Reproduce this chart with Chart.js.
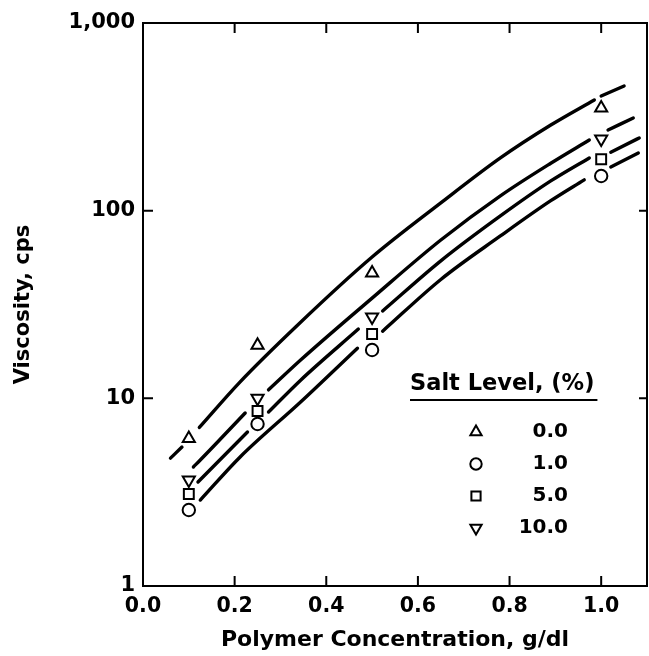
<!DOCTYPE html>
<html>
<head>
<meta charset="utf-8">
<script src="https://cdn.jsdelivr.net/npm/chart.js@4.4.1/dist/chart.umd.min.js"></script>
<style>
  html, body { margin: 0; padding: 0; background: #fff; }
</style>
</head>
<body>
<canvas id="chart" width="649" height="656"></canvas>
<script>
// Axis ticks
const xTicks = [0.0, 0.2, 0.4, 0.6, 0.8, 1.0];
const yTicks = [1, 10, 100, 1000];
const yTickLabels = ['1', '10', '100', '1,000'];

// Salt levels, in legend order
const saltLevels = ['0.0', '1.0', '5.0', '10.0'];

// Measured points
const concentrations = [0.1, 0.25, 0.5, 1.0];
const viscSalt0 = [6.1, 19.2, 46.5, 352];
const viscSalt1 = [2.54, 7.3, 18.1, 153];
const viscSalt5 = [3.09, 8.56, 22.0, 188];
const viscSalt10 = [3.67, 10.0, 27.1, 241];

// Fitted curves (null = break in the drawn line)
const fit0X = [0.06, 0.085, 0.10, 0.123, 0.21, 0.34, 0.50, 0.65, 0.78, 0.89, 0.985, 0.99, 1.0, 1.05];
const fit0Y = [4.8, 5.5, null, 7.0, 12.1, 24.9, 56.6, 110, 191, 286, 389, null, 408, 462];
const fit1X = [0.125, 0.212, 0.344, 0.468, 0.5, 0.523, 0.65, 0.78, 0.89, 0.963, 0.99, 1.021, 1.081];
const fit1Y = [2.87, 4.87, 9.56, 18.5, null, 22.8, 43.0, 73.3, 113, 146, null, 171, 203];
const fit5X = [0.12, 0.228, 0.25, 0.274, 0.344, 0.47, 0.5, 0.523, 0.65, 0.78, 0.89, 0.974, 0.99, 1.021, 1.083];
const fit5Y = [3.58, 6.62, null, 8.45, 12.5, 23.4, null, 29.2, 54.0, 93.7, 144, 191, null, 205, 244];
const fit10X = [0.11, 0.125, 0.223, 0.25, 0.274, 0.344, 0.5, 0.65, 0.78, 0.89, 0.974, 0.99, 1.015, 1.07];
const fit10Y = [4.31, 4.69, 8.35, null, 11.1, 16.0, 34.2, 69.8, 120, 179, 238, null, 269, 312];

const FONT = '"DejaVu Sans", Verdana, sans-serif';

const toPoints = (xs, ys) => xs.map((v, i) => ({ x: v, y: ys[i] }));

const markerStyle = [
    { pointStyle: 'triangle', rotation: 0, radius: 7 },
    { pointStyle: 'circle', rotation: 0, radius: 6.2 },
    { pointStyle: 'rect', rotation: 0, radius: 7 },
    { pointStyle: 'triangle', rotation: 180, radius: 7 }
];

const seriesVisc = [viscSalt0, viscSalt1, viscSalt5, viscSalt10];
const fits = [[fit0X, fit0Y], [fit1X, fit1Y], [fit5X, fit5Y], [fit10X, fit10Y]];

const datasets = [];
saltLevels.forEach((lvl, i) => {
    datasets.push({
        label: lvl,
        data: toPoints(concentrations, seriesVisc[i]),
        showLine: false,
        pointStyle: markerStyle[i].pointStyle,
        rotation: markerStyle[i].rotation,
        pointRadius: markerStyle[i].radius,
        pointBackgroundColor: '#fff',
        pointBorderColor: '#000',
        pointBorderWidth: 2,
        order: 0
    });
});
saltLevels.forEach((lvl, i) => {
    datasets.push({
        label: lvl + ' fit',
        data: toPoints(fits[i][0], fits[i][1]),
        showLine: true,
        spanGaps: false,
        borderColor: '#000',
        borderWidth: 3.4,
        borderCapStyle: 'round',
        cubicInterpolationMode: 'monotone',
        pointRadius: 0,
        order: 1
    });
});

// Frame, inward ticks and the salt level key
const frameAndLegend = {
    id: 'frameAndLegend',
    afterDraw(chart) {
        const { ctx, chartArea: a, scales: { x, y } } = chart;
        ctx.save();
        ctx.strokeStyle = '#000';
        ctx.lineWidth = 2;
        ctx.strokeRect(a.left, a.top, a.right - a.left, a.bottom - a.top);

        ctx.beginPath();
        xTicks.filter(v => v > 0).forEach(v => {
            const px = x.getPixelForValue(v);
            ctx.moveTo(px, a.bottom); ctx.lineTo(px, a.bottom - 10);
            ctx.moveTo(px, a.top); ctx.lineTo(px, a.top + 10);
        });
        yTicks.filter(v => v > 1 && v < 1000).forEach(v => {
            const py = y.getPixelForValue(v);
            ctx.moveTo(a.left, py); ctx.lineTo(a.left + 10, py);
            ctx.moveTo(a.right, py); ctx.lineTo(a.right - 8, py);
        });
        ctx.stroke();

        // key
        ctx.fillStyle = '#000';
        ctx.font = 'bold 22.5px ' + FONT;
        ctx.textBaseline = 'middle';
        ctx.textAlign = 'left';
        const title = 'Salt Level, (%)';
        ctx.fillText(title, 410, 384);
        const w = ctx.measureText(title).width;
        ctx.beginPath();
        ctx.moveTo(410, 400); ctx.lineTo(410 + w + 3, 400);
        ctx.stroke();

        const rows = [432, 464, 496, 528];
        ctx.font = 'bold 20px ' + FONT;
        ctx.textAlign = 'right';
        saltLevels.forEach((lvl, i) => {
            ctx.fillStyle = '#000';
            ctx.fillText(lvl, 568, rows[i]);
            ctx.fillStyle = '#fff';
            ctx.strokeStyle = '#000';
            ctx.lineWidth = 2;
            Chart.helpers.drawPoint(ctx, {
                pointStyle: markerStyle[i].pointStyle,
                rotation: markerStyle[i].rotation,
                radius: markerStyle[i].radius - 0.5,
                borderWidth: 2
            }, 476, rows[i]);
        });
        ctx.restore();
    }
};

new Chart(document.getElementById('chart'), {
    type: 'scatter',
    data: { datasets },
    options: {
        responsive: false,
        animation: false,
        devicePixelRatio: 1,
        layout: { autoPadding: false, padding: { left: 0, right: 2, top: 23, bottom: 0 } },
        plugins: {
            legend: { display: false },
            tooltip: { enabled: false }
        },
        scales: {
            x: {
                type: 'linear',
                min: 0,
                max: 1.1,
                afterBuildTicks: s => { s.ticks = xTicks.map(v => ({ value: v })); },
                afterFit: s => { s.height = 70; s.paddingLeft = 0; s.paddingRight = 0; },
                grid: { display: false, drawTicks: false },
                border: { display: false },
                ticks: {
                    autoSkip: false,
                    maxRotation: 0,
                    padding: 8,
                    color: '#000',
                    font: { family: FONT, size: 20.5, weight: 'bold' },
                    callback: v => v.toFixed(1)
                },
                title: {
                    display: true,
                    text: 'Polymer Concentration, g/dl',
                    color: '#000',
                    font: { family: FONT, size: 22, weight: 'bold', lineHeight: 1.2 },
                    padding: { top: 0, bottom: 3 }
                }
            },
            y: {
                type: 'logarithmic',
                min: 1,
                max: 1000,
                afterBuildTicks: s => { s.ticks = yTicks.map(v => ({ value: v })); },
                afterFit: s => { s.width = 143; s.paddingTop = 0; s.paddingBottom = 0; },
                grid: { display: false, drawTicks: false },
                border: { display: false },
                ticks: {
                    autoSkip: false,
                    padding: 8,
                    color: '#000',
                    font: { family: FONT, size: 21, weight: 'bold' },
                    callback: v => yTickLabels[yTicks.indexOf(v)]
                },
                title: {
                    display: true,
                    text: 'Viscosity, cps',
                    color: '#000',
                    font: { family: FONT, size: 21, weight: 'bold', lineHeight: 1.2 },
                    padding: { top: 11, bottom: 0 }
                }
            }
        }
    },
    plugins: [frameAndLegend]
});
</script>
</body>
</html>
